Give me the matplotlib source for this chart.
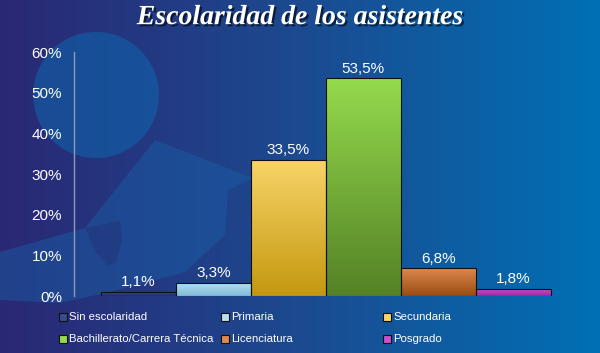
import numpy as np
import matplotlib.pyplot as plt
import matplotlib.patheffects as pe
from matplotlib.patches import Circle, Polygon, Rectangle
from matplotlib.colors import LinearSegmentedColormap

categories = ['Sin escolaridad', 'Primaria', 'Secundaria',
              'Bachillerato/Carrera Técnica', 'Licenciatura', 'Posgrado']
values = [1.1, 3.3, 33.5, 53.5, 6.8, 1.8]
value_labels = ['1,1%', '3,3%', '33,5%', '53,5%', '6,8%', '1,8%']
yticks = [0, 10, 20, 30, 40, 50, 60]
ytick_labels = ['0%', '10%', '20%', '30%', '40%', '50%', '60%']

# (top colour, bottom colour) for the bar gradients
bar_colors = [('#3a4c90', '#243070'), ('#b8e0f0', '#80bcd8'),
              ('#f8d468', '#c49810'), ('#94da4c', '#548226'),
              ('#dc8850', '#9a4c10'), ('#cc50cc', '#a02aa0')]

plt.rcParams['font.family'] = ['Liberation Sans', 'DejaVu Sans']

fig = plt.figure(figsize=(6, 3.53), dpi=100)

# background gradient
bg = fig.add_axes([0, 0, 1, 1], zorder=0)
grad = np.linspace(0, 1, 256).reshape(1, -1)
bg_cmap = LinearSegmentedColormap.from_list('bg', ['#2a2874', '#1c4a90', '#0070b4'])
bg.imshow(grad, aspect='auto', cmap=bg_cmap, extent=[0, 600, 353, 0])
bg.set_xlim(0, 600)
bg.set_ylim(353, 0)
bg.axis('off')

# decorative figure in the background (head + body)
bg.add_patch(Circle((96, 95), 63, color='#0f62aa', alpha=0.6, lw=0))
bg.add_patch(Polygon([(0, 252), (85, 228), (155, 140), (253, 178), (228, 190),
                      (225, 235), (185, 272), (110, 292), (60, 303), (0, 300)],
                     closed=True, color='#1860a8', alpha=0.45, lw=0))
bg.add_patch(Polygon([(85, 228), (120, 221), (122, 240), (116, 262), (108, 266),
                      (96, 252)], closed=True, color='#23337a', alpha=0.55, lw=0))

title = fig.text(0.5, 0.95, 'Escolaridad de los asistentes', ha='center', va='center',
                 color='white', fontsize=20, fontweight='bold', fontstyle='italic',
                 family=['Liberation Serif', 'DejaVu Serif'])
title.set_path_effects([pe.withSimplePatchShadow(offset=(1.5, -1.5), shadow_rgbFace='black',
                                                 alpha=0.6)])

ax = fig.add_axes([74 / 600, 57 / 353, 500 / 600, 244 / 353], zorder=1)
ax.patch.set_visible(False)
x = np.arange(len(categories))
bars = ax.bar(x, values, width=1.0, edgecolor='#111111', linewidth=0.8, zorder=3)

for b, (top, bot) in zip(bars, bar_colors):
    cm = LinearSegmentedColormap.from_list('b', [bot, top])
    bx, by = b.get_x(), b.get_y()
    w, h = b.get_width(), b.get_height()
    im = ax.imshow(np.linspace(0, 1, 64).reshape(-1, 1), aspect='auto', cmap=cm,
                   origin='lower', extent=[bx, bx + w, by, by + h], zorder=2)
    im.set_clip_path(b)
    b.set_facecolor('none')

for xi, v, lab in zip(x, values, value_labels):
    ax.annotate(lab, (xi, v), xytext=(0, 2), textcoords='offset points',
                ha='center', va='bottom', color='white', fontsize=11)

ax.set_xlim(-0.86, 5.81)
ax.set_ylim(0, 60)
ax.set_yticks(yticks)
ax.set_yticklabels(ytick_labels)
ax.tick_params(axis='y', length=0, pad=8.5, labelsize=11, labelcolor='white')
ax.set_xticks([])
for s in ['top', 'right', 'bottom']:
    ax.spines[s].set_visible(False)
ax.spines['left'].set_color('#8a9cb4')
ax.spines['left'].set_linewidth(1)

# legend, two rows of three
col_x = [63, 225, 387]
row_y = [317, 339]
for i, (name, (top, bot)) in enumerate(zip(categories, bar_colors)):
    px = col_x[i % 3]
    py = row_y[i // 3]
    sq = Rectangle(((px - 4) / 600, 1 - (py + 4) / 353), 8 / 600, 8 / 353,
                   transform=fig.transFigure, facecolor=top, edgecolor='#111111',
                   linewidth=0.8, zorder=3)
    fig.add_artist(sq)
    fig.text((px + 6) / 600, 1 - py / 353, name, ha='left', va='center',
             color='white', fontsize=8.2, zorder=3)

fig.savefig('out.png', dpi=100)
